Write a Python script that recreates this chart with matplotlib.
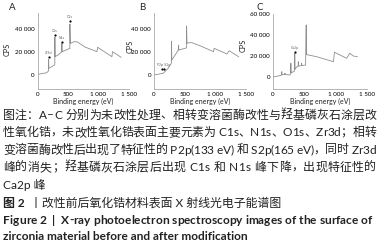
import matplotlib
matplotlib.use("Agg")
import matplotlib.pyplot as plt
from matplotlib.ticker import FuncFormatter

plt.rcParams['font.family'] = ['Lato', 'Noto Sans CJK SC', 'DejaVu Sans']

W, H = 382, 245

# spectrum A: untreated zirconia
a_ev = [0, 150, 180, 182, 186, 280, 284, 285, 288, 340, 395, 400, 405,
        525, 530, 531, 538, 600, 650, 780, 975, 985, 1220, 1230, 1370]
a_cps = [500, 2000, 3500, 13600, 5800, 8700, 9500, 33000, 16000, 17500, 20000, 27500, 20300,
         23000, 23000, 44300, 27500, 29000, 28800, 24300, 20300, 24100, 15900, 20300, 15400]
a_peaks = ['Zr3d', 'C1s', 'N1s', 'O1s']
a_peak_ev = [182, 285, 400, 531]
a_peak_cps = [16000, 35000, 28500, 47000]

# spectrum B: lysozyme modified
b_ev = [0, 150, 230, 283, 285, 290, 340, 395, 400, 405, 505, 528, 531, 538,
        570, 620, 760, 970, 980, 1190, 1225, 1380]
b_cps = [0, 1500, 5800, 10200, 29500, 13000, 17000, 21500, 26000, 21700, 23200, 23500, 42600, 27500,
         28100, 28100, 25200, 20300, 23200, 18300, 21100, 15900]
b_peaks = ['P2p', 'S2p']
b_peak_ev = [133, 165]
b_peak_cps = [5000, 5300]

# spectrum C: hydroxyapatite coating
c_ev = [0, 110, 138, 140, 142, 188, 190, 192, 270, 284, 285, 288, 340, 346, 347, 350,
        382, 402, 404, 406, 455, 457, 459, 520, 530, 533, 563, 697, 965, 980,
        1175, 1225, 1281, 1345]
c_cps = [-500, 800, 1500, 4600, 1600, 2000, 3100, 2000, 1400, 3000, 12700, 3500, 5000, 6000, 22300, 7000,
         9400, 10000, 14200, 10000, 10500, 12700, 10500, 11000, 49500, 21000, 20700, 19000, 14200, 23300,
         17500, 22300, 19700, 19000]
c_peaks = ['Ca2p']
c_peak_ev = [347]
c_peak_cps = [23800]

panels = ['A', 'B', 'C']
x_ticks = [0, 500, 1000, 1500]

caption = [
    "图注：A–C 分别为未改性处理、相转变溶菌酶改性与羟基磷灰石涂层改",
    "性氧化锆，未改性氧化锆表面主要元素为 C1s、N1s、O1s、Zr3d；相转",
    "变溶菌酶改性后出现了特征性的 P2p(133 eV) 和 S2p(165 eV)，同时 Zr3d",
    "峰的消失；羟基磷灰石涂层后出现 C1s 和 N1s 峰下降，出现特征性的",
    "Ca2p 峰",
]
title_num = "图 2"
title_cn = "丨改性前后氧化锆材料表面 X 射线光电子能谱图"
title_en = ["Figure 2  |  X-ray photoelectron spectroscopy images of the surface of",
            "zirconia material before and after modification"]


def fmt(v, pos):
    return f"{int(v):,}".replace(",", " ")


fig = plt.figure(figsize=(W / 100, H / 100), dpi=100)
renderer = fig.canvas.get_renderer()


def box(x0, x1, ytop, ybot):
    return [x0 / W, 1 - ybot / H, (x1 - x0) / W, (ybot - ytop) / H]


def px(x, y):
    return x / W, 1 - y / H


def text_w(t, s):
    t.set_text(s)
    return t.get_window_extent(renderer).width if s else 0.0


def justified(line, x0, x1, y, **kw):
    probe = fig.text(0, 0, '', **kw)
    wI = text_w(probe, 'I')
    total = text_w(probe, line)
    gap = (x1 - x0 - total) / max(len(line) - 1, 1)
    for k, ch in enumerate(line):
        if ch == ' ':
            continue
        off = text_w(probe, line[:k] + 'I') - wI if k else 0.0
        fig.text(*px(x0 + off + k * gap, y), ch, ha='left', va='baseline', **kw)
    probe.remove()


specs = [
    (a_ev, a_cps, a_peaks, a_peak_ev, a_peak_cps, box(37.5, 129, 13, 89), (-12170, 53900), [0, 20000, 40000]),
    (b_ev, b_cps, b_peaks, b_peak_ev, b_peak_cps, box(154, 246, 13, 89), (-12170, 53900), [0, 20000, 40000]),
    (c_ev, c_cps, c_peaks, c_peak_ev, c_peak_cps, box(273, 367, 14, 89), (-12000, 60000), [0, 20000, 40000, 60000]),
]
label_pos = [(12, 7), (142, 7), (260, 7)]
cps_pos = [(7, 49), (130, 46), (243, 45)]

for i, (ev, cps, pk, pk_ev, pk_cps, rect, ylim, yt) in enumerate(specs):
    ax = fig.add_axes(rect)
    ax.plot(ev, cps, color='#8f8f8f', lw=0.6)
    ax.scatter(pk_ev, pk_cps, s=2.5, color='black', zorder=3, linewidths=0)
    if i == 1:
        ax.text(150, pk_cps[0] + 2600, "P2p S2p", fontsize=2.3, color='#666666', ha='center',
                family='DejaVu Sans')
    else:
        for name, x, y in zip(pk, pk_ev, pk_cps):
            ax.text(x, y + 2600, name, fontsize=2.3, color='#666666', ha='center', family='DejaVu Sans')
    ax.set_xlim(0, 1500)
    ax.set_ylim(*ylim)
    ax.set_xticks(x_ticks)
    ax.set_yticks(yt)
    ax.xaxis.set_major_formatter(FuncFormatter(fmt))
    ax.yaxis.set_major_formatter(FuncFormatter(fmt))
    ax.tick_params(length=0, labelsize=4.5, pad=2)
    for s in ['top', 'right']:
        ax.spines[s].set_visible(False)
    for s in ['left', 'bottom']:
        ax.spines[s].set_color('#a8a8a8')
        ax.spines[s].set_linewidth(0.6)
    ax.set_facecolor('none')
    cx = rect[0] + rect[2] / 2
    fig.text(cx, 1 - 101 / H, "Binding energy (eV)", fontsize=5, ha='center', va='center',
             color='#222222')
    fig.text(*px(*cps_pos[i]), "CPS", fontsize=5.3, rotation=90, ha='center', va='center',
             color='#222222')
    fig.text(*px(*label_pos[i]), panels[i], fontsize=7, ha='center', va='center', color='#222222')

ys = [114, 131.5, 149, 166.5]
for line, y in zip(caption[:4], ys):
    justified(line, 3, 376, y + 4.5, fontsize=8.6, color='#222222')
fig.text(*px(3, 184 + 4.5), caption[4], fontsize=8.6, ha='left', va='baseline', color='#222222')

fig.text(*px(3, 202 + 4.5), title_num, fontsize=8.6, ha='left', va='baseline', color='#222222',
         weight='bold')
fig.text(*px(30, 202 + 4.5), title_cn, fontsize=8.6, ha='left', va='baseline', color='#222222')
justified(title_en[0], 3, 372, 220 + 3.5, fontsize=8.6, color='#222222', weight='bold')
fig.text(*px(3, 236 + 3.5), title_en[1], fontsize=8.6, ha='left', va='baseline', color='#222222',
         weight='bold')

fig.savefig("out.png", dpi=100, facecolor='white')
